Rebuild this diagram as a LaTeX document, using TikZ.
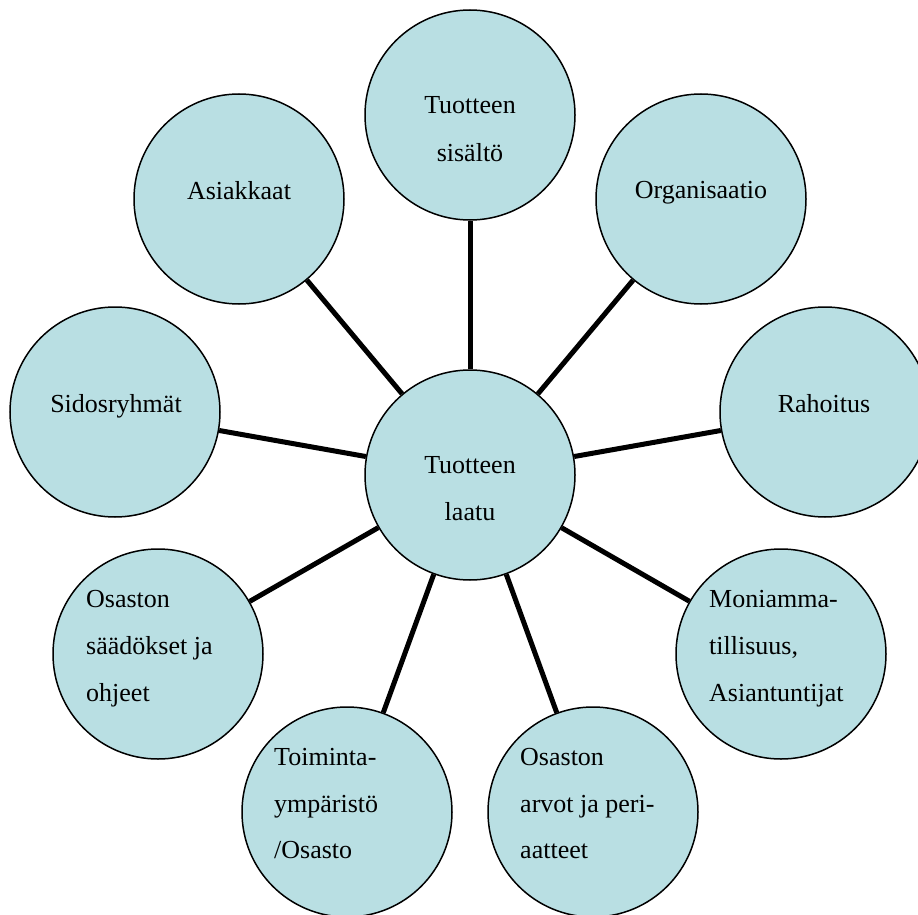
\documentclass[tikz,border=0pt]{standalone}
\usepackage{fontspec}
\setmainfont{Liberation Serif}
\definecolor{bubble}{HTML}{B9DFE3}
\begin{document}
\begin{tikzpicture}[x=1pt,y=-1pt,
  bub/.style={circle,draw=black,line width=1.5pt,fill=bubble,minimum size=210pt,inner sep=0pt},
  spoke/.style={line width=5pt},
  lbl/.style={font=\fontsize{26}{47}\selectfont,inner sep=0pt,anchor=base},
  lbll/.style={font=\fontsize{26}{47}\selectfont,inner sep=0pt,anchor=base west}]
\useasboundingbox (0,0) rectangle (918,915);
% nodes
\node[bub] (c) at (470,475) {};
\node[bub] (top) at (470,115) {};
\node[bub] (asi) at (239,199) {};
\node[bub] (org) at (701,199) {};
\node[bub] (sid) at (115,412) {};
\node[bub] (rah) at (825,412) {};
\node[bub] (sad) at (158,654) {};
\node[bub] (mon) at (781,654) {};
\node[bub] (toi) at (347,812) {};
\node[bub] (arv) at (593,812) {};
% spokes
\foreach \n in {top,asi,org,sid,rah,sad,mon,toi,arv}
  \draw[spoke] (c) -- (\n);
% labels
\node[lbl] (c1) at (470,473) {Tuotteen};
\node[lbl] (c2) at (470,520) {laatu};
\node[lbl] (t1) at (470,114) {Tuotteen};
\node[lbl] (t2) at (470,161) {sisältö};
\node[lbl] (a1) at (239,199) {Asiakkaat};
\node[lbl] (o1) at (701,198) {Organisaatio};
\node[lbl] (s1) at (116,412) {Sidosryhmät};
\node[lbl] (r1) at (824,412) {Rahoitus};
\node[lbll] (d1) at (86,607) {Osaston};
\node[lbll] (d2) at (86,654) {säädökset ja};
\node[lbll] (d3) at (86,701) {ohjeet};
\node[lbll] (m1) at (709,607) {Moniamma-};
\node[lbll] (m2) at (709,654) {tillisuus,};
\node[lbll] (m3) at (709,701) {Asiantuntijat};
\node[lbll] (y1) at (274,765) {Toiminta-};
\node[lbll] (y2) at (274,812) {ympäristö};
\node[lbll] (y3) at (274,858) {/Osasto};
\node[lbll] (v1) at (520,765) {Osaston};
\node[lbll] (v2) at (520,812) {arvot ja peri-};
\node[lbll] (v3) at (520,858) {aatteet};
\end{tikzpicture}
\end{document}
